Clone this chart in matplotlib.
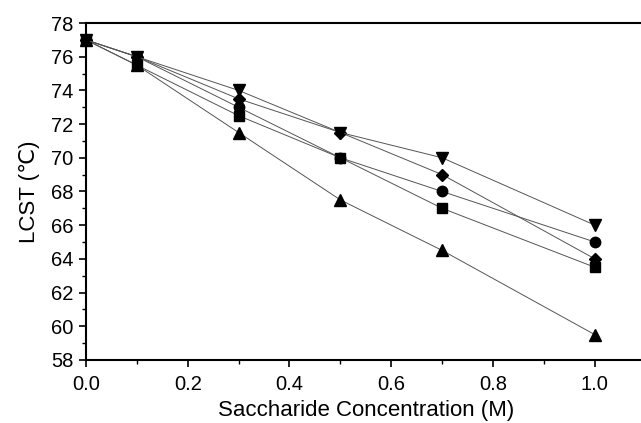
import matplotlib
matplotlib.use("Agg")
import matplotlib.pyplot as plt
from matplotlib.ticker import MultipleLocator

plt.rcParams['font.family'] = ['Liberation Sans', 'DejaVu Sans']

conc = [0.0, 0.1, 0.3, 0.5, 0.7, 1.0]
s_down = [77, 76, 74, 71.5, 70, 66]
s_diamond = [77, 76, 73.5, 71.5, 69, 64]
s_circle = [77, 76, 73, 70, 68, 65]
s_square = [77, 75.5, 72.5, 70, 67, 63.5]
s_up = [77, 75.5, 71.5, 67.5, 64.5, 59.5]

fig = plt.figure(figsize=(6.41, 4.23), dpi=100)
ax = fig.add_axes([0.134, 0.149, 0.8735, 0.7966])

series = [(s_up, '^', 8), (s_square, 's', 7), (s_circle, 'o', 7.5),
          (s_diamond, 'D', 6.5), (s_down, 'v', 8)]
for ys, m, ms in series:
    ax.plot(conc, ys, color='#555555', lw=0.7, marker=m, ms=ms,
            mfc='black', mec='black', clip_on=False, zorder=3)

ax.set_xlim(0, 1.1)
ax.set_ylim(58, 78)
ax.xaxis.set_major_locator(MultipleLocator(0.2))
ax.xaxis.set_minor_locator(MultipleLocator(0.1))
ax.yaxis.set_major_locator(MultipleLocator(2))
ax.yaxis.set_minor_locator(MultipleLocator(1))
ax.xaxis.set_major_formatter(matplotlib.ticker.FormatStrFormatter('%.1f'))
ax.tick_params(which='major', direction='out', length=5, width=1.2, labelsize=14.5,
               colors='black')
ax.tick_params(axis='x', which='major', pad=6)
ax.tick_params(axis='y', which='major', pad=4)
ax.tick_params(which='minor', direction='out', length=3, width=1.0)
ax.tick_params(top=False, right=False)
ax.spines['right'].set_visible(False)
for s in ['left', 'bottom', 'top']:
    ax.spines[s].set_linewidth(1.5)

ax.set_xlabel('Saccharide Concentration (M)', fontsize=16, labelpad=4)
ax.set_ylabel('LCST (\u2103)', fontsize=16, labelpad=8)

fig.savefig('out.png', dpi=100)
